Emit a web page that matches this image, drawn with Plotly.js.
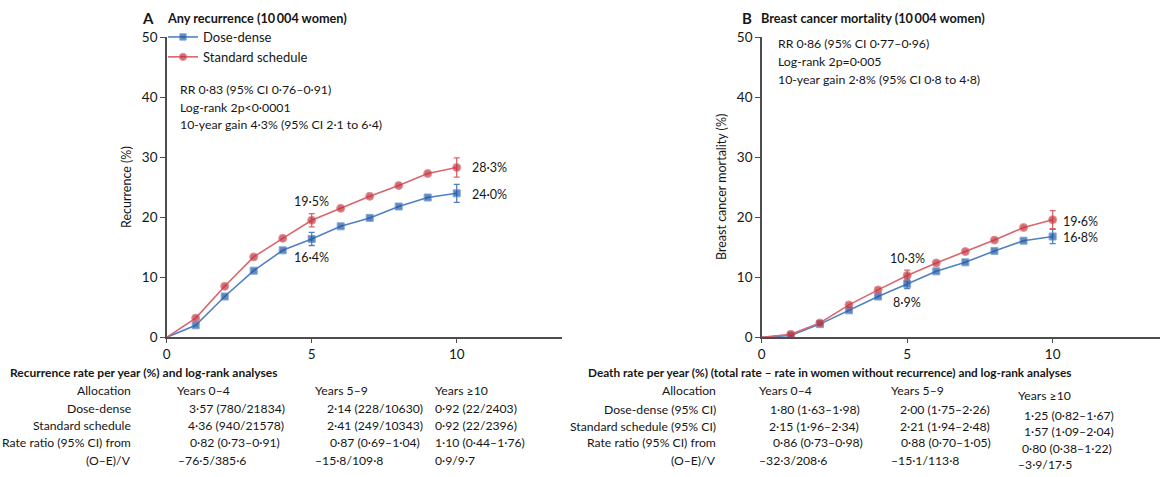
<!DOCTYPE html>
<html>
<head>
<meta charset="utf-8">
<script src="https://cdn.plot.ly/plotly-3.0.1.min.js"></script>
<style>html,body{margin:0;padding:0;background:#fff;}#chart{width:1173px;height:477px;}</style>
</head>
<body>
<div id="chart"></div>
<script>
// ---------- data ----------
const years = [0, 1, 2, 3, 4, 5, 6, 7, 8, 9, 10];
const recDoseDense = [0, 2.0, 6.8, 11.1, 14.5, 16.4, 18.5, 19.9, 21.8, 23.3, 24.0];
const recStandard  = [0, 3.2, 8.5, 13.4, 16.5, 19.5, 21.5, 23.5, 25.3, 27.3, 28.3];
const mortDoseDense = [0, 0.3, 2.2, 4.5, 6.8, 8.9, 11.0, 12.5, 14.4, 16.1, 16.8];
const mortStandard  = [0, 0.5, 2.4, 5.4, 7.9, 10.3, 12.4, 14.3, 16.2, 18.3, 19.6];
const errYears = [5, 10];
const recErrDoseDense = [1.1, 1.5];
const recErrStandard = [1.1, 1.6];
const mortErrDoseDense = [0.8, 1.2];
const mortErrStandard = [0.9, 1.5];
const seriesNames = ['Dose-dense', 'Standard schedule'];
const yTicks = [0, 10, 20, 30, 40, 50];
const xTicks = [0, 5, 10];

const panelTitles = ['Any recurrence (10\u2009004 women)', 'Breast cancer mortality (10\u2009004 women)'];
const yTitles = ['Recurrence (%)', 'Breast cancer mortality (%)'];
const statsA = ['RR 0·83 (95% CI 0·76–0·91)', 'Log-rank 2p<0·0001', '10-year gain 4·3% (95% CI 2·1 to 6·4)'];
const statsB = ['RR 0·86 (95% CI 0·77–0·96)', 'Log-rank 2p=0·005', '10-year gain 2·8% (95% CI 0·8 to 4·8)'];

const tableTitleA = 'Recurrence rate per year (%) and log-rank analyses';
const tableRowsA = ['Allocation', 'Dose-dense', 'Standard schedule', 'Rate ratio (95% CI) from', '(O–E)/V'];
const tableColA1 = ['Years 0–4', '3·57 (780/21834)', '4·36 (940/21578)', '0·82 (0·73–0·91)', '–76·5/385·6'];
const tableColA2 = ['Years 5–9', '2·14 (228/10630)', '2·41 (249/10343)', '0·87 (0·69–1·04)', '–15·8/109·8'];
const tableColA3 = ['Years ≥10', '0·92 (22/2403)', '0·92 (22/2396)', '1·10 (0·44–1·76)', '0·9/9·7'];

const tableTitleB = 'Death rate per year (%) (total rate – rate in women without recurrence) and log-rank analyses';
const tableRowsB = ['Allocation', 'Dose-dense (95% CI)', 'Standard schedule (95% CI)', 'Rate ratio (95% CI) from', '(O–E)/V'];
const tableColB1 = ['Years 0–4', '1·80 (1·63–1·98)', '2·15 (1·96–2·34)', '0·86 (0·73–0·98)', '–32·3/208·6'];
const tableColB2 = ['Years 5–9', '2·00 (1·75–2·26)', '2·21 (1·94–2·48)', '0·88 (0·70–1·05)', '–15·1/113·8'];
const tableColB3 = ['Years ≥10', '1·25 (0·82–1·67)', '1·57 (1·09–2·04)', '0·80 (0·38–1·22)', '–3·9/17·5'];

// ---------- layout helpers ----------
const W = 1173, H = 477;
const px = x => x / W;
const py = y => 1 - y / H;
const FONT = 'Lato, "Open Sans", sans-serif';
const TXT = '#161616';
const BLUE = '#1d56a3', BLUE_L = '#4f80c4';
const RED = '#c2313c', RED_L = '#d9656d';
const fmt = v => v.toFixed(1).replace('.', '·') + '%';

function pick(arr, xs) { return xs.map(x => arr[years.indexOf(x)]); }

function seriesTraces(xa, ya, dd, st, errDD, errST, showLeg) {
  const mSizeSq = years.map(y => y === 0 ? 0 : 7);
  const mSizeC = years.map(y => y === 0 ? 0 : 8);
  return [
    {x: errYears, y: pick(dd, errYears), xaxis: xa, yaxis: ya, type: 'scatter', mode: 'markers',
     marker: {size: 1, color: 'rgba(0,0,0,0)'}, showlegend: false, hoverinfo: 'skip',
     error_y: {type: 'data', array: errDD, visible: true, color: BLUE_L, thickness: 1.3, width: 3}},
    {x: errYears, y: pick(st, errYears), xaxis: xa, yaxis: ya, type: 'scatter', mode: 'markers',
     marker: {size: 1, color: 'rgba(0,0,0,0)'}, showlegend: false, hoverinfo: 'skip',
     error_y: {type: 'data', array: errST, visible: true, color: RED_L, thickness: 1.3, width: 3}},
    {x: years, y: dd, xaxis: xa, yaxis: ya, type: 'scatter', mode: 'lines+markers', name: seriesNames[0],
     line: {color: BLUE_L, width: 1.6}, marker: {symbol: 'square', size: mSizeSq, color: BLUE}, showlegend: showLeg},
    {x: years, y: st, xaxis: xa, yaxis: ya, type: 'scatter', mode: 'lines+markers', name: seriesNames[1],
     line: {color: RED_L, width: 1.6}, marker: {symbol: 'circle', size: mSizeC, color: RED}, showlegend: showLeg}
  ];
}

const data = [
  ...seriesTraces('x', 'y', recDoseDense, recStandard, recErrDoseDense, recErrStandard, true),
  ...seriesTraces('x2', 'y2', mortDoseDense, mortStandard, mortErrDoseDense, mortErrStandard, false)
];

const axisCommon = {
  showline: true, linecolor: '#4d4d4d', linewidth: 1.5, ticks: 'outside', ticklen: 5, tickwidth: 1.2,
  tickcolor: '#4d4d4d', showgrid: false, zeroline: false, fixedrange: true,
  tickfont: {family: FONT, size: 13.5, color: TXT}
};
const yDom = [py(337.3), py(37.3)];

const annotations = [];
function ann(text, x, y, opts) {
  annotations.push(Object.assign({text: text, x: px(x), y: py(y), xref: 'paper', yref: 'paper',
    showarrow: false, xanchor: 'left', yanchor: 'middle',
    font: {family: FONT, size: 12, color: TXT}}, opts || {}));
}
// Panel letters and titles
ann('<b>A</b>', 140, 18, {font: {family: FONT, size: 15, color: TXT}});
ann('<b>' + panelTitles[0] + '</b>', 165, 18, {font: {family: FONT, size: 12.7, color: TXT}});
ann('<b>B</b>', 740, 18, {font: {family: FONT, size: 15, color: TXT}});
ann('<b>' + panelTitles[1] + '</b>', 759, 18, {font: {family: FONT, size: 12.7, color: TXT}});
// Y titles
ann(yTitles[0], 126, 187, {xanchor: 'center', textangle: -90, font: {family: FONT, size: 12.5, color: TXT}});
ann(yTitles[1], 721, 187, {xanchor: 'center', textangle: -90, font: {family: FONT, size: 12.5, color: TXT}});
// stats
statsA.forEach((t, i) => ann(t, 178, 90 + i * 17.4, {font: {family: FONT, size: 12.3, color: TXT}}));
statsB.forEach((t, i) => ann(t, 776, 43.5 + i * 17.8, {font: {family: FONT, size: 12.3, color: TXT}}));

// data labels from data
function dlab(xa, ya, xv, yv, xshift, yshift, anchor) {
  annotations.push({text: fmt(yv), x: xv, y: yv, xref: xa, yref: ya, showarrow: false,
    xanchor: anchor, yanchor: 'middle', xshift: xshift, yshift: yshift,
    font: {family: FONT, size: 12.5, color: TXT}});
}
const i5 = years.indexOf(5), i10 = years.indexOf(10);
dlab('x', 'y', 5, recStandard[i5], 0, 18.5, 'center');
dlab('x', 'y', 5, recDoseDense[i5], 0, -18.5, 'center');
dlab('x', 'y', 10, recStandard[i10], 13, 0, 'left');
dlab('x', 'y', 10, recDoseDense[i10], 13, -1.5, 'left');
dlab('x2', 'y2', 5, mortStandard[i5], 0, 17.5, 'center');
dlab('x2', 'y2', 5, mortDoseDense[i5], 0, -18.5, 'center');
dlab('x2', 'y2', 10, mortStandard[i10], 8.5, -2, 'left');
dlab('x2', 'y2', 10, mortDoseDense[i10], 8.5, -1, 'left');

// tables
const TF = {family: FONT, size: 12.2, color: TXT};
ann('<b>' + tableTitleA + '</b>', 8, 372, {font: {family: FONT, size: 12, color: TXT}});
const rowYA = [390, 408.3, 425, 442.3, 460.5];
const c1A = [175, 186.7, 185.7, 187.7, 175.7];
const c2A = [313.3, 325, 325, 328.3, 313.3];
const c3A = [433.3, 433.3, 433.3, 433.3, 433.3];
tableRowsA.forEach((t, i) => {
  ann(t, 133.3, rowYA[i], {xanchor: 'right', font: TF});
  ann(tableColA1[i], c1A[i], rowYA[i], {font: TF});
  ann(tableColA2[i], c2A[i], rowYA[i], {font: TF});
  ann(tableColA3[i], c3A[i], rowYA[i], {font: TF});
});
ann('<b>' + tableTitleB + '</b>', 586, 372, {font: {family: FONT, size: 11.8, color: TXT}});
const rowYB = [390, 409.3, 426, 442.7, 460.3];
const c1B = [756.7, 767.7, 766.7, 771, 756.7];
const c2B = [889.3, 898.3, 898.3, 899.3, 889.3];
const c3B = [1015.7, 1022.3, 1022.3, 1020, 1015.7];
const rowY3B = [395.7, 415, 431, 448.3, 464.3];
tableRowsB.forEach((t, i) => {
  ann(t, 717.7, rowYB[i], {xanchor: 'right', font: TF});
  ann(tableColB1[i], c1B[i], rowYB[i], {font: TF});
  ann(tableColB2[i], c2B[i], rowYB[i], {font: TF});
  ann(tableColB3[i], c3B[i], rowY3B[i], {font: TF});
});

const layout = {
  width: W, height: H,
  margin: {l: 0, r: 0, t: 0, b: 0},
  paper_bgcolor: '#fff', plot_bgcolor: 'rgba(0,0,0,0)',
  font: {family: FONT, color: TXT},
  xaxis: Object.assign({}, axisCommon, {domain: [px(166.7), px(561.7)], range: [0, 13.62], tickvals: xTicks, ticklen: 4, anchor: 'y'}),
  yaxis: Object.assign({}, axisCommon, {domain: yDom, range: [0, 50], tickvals: yTicks, anchor: 'x'}),
  xaxis2: Object.assign({}, axisCommon, {domain: [px(761.7), px(1160)], range: [0, 13.69], tickvals: xTicks, ticklen: 4, anchor: 'y2'}),
  yaxis2: Object.assign({}, axisCommon, {domain: yDom, range: [0, 50], tickvals: yTicks, anchor: 'x2'}),
  showlegend: true,
  legend: {x: px(163), y: py(22), xanchor: 'left', yanchor: 'top', bgcolor: 'rgba(0,0,0,0)',
    font: {family: FONT, size: 13, color: TXT}, tracegroupgap: 0, itemwidth: 30},
  annotations: annotations
};

Plotly.newPlot('chart', data, layout, {displayModeBar: false, staticPlot: true});
</script>
</body>
</html>
